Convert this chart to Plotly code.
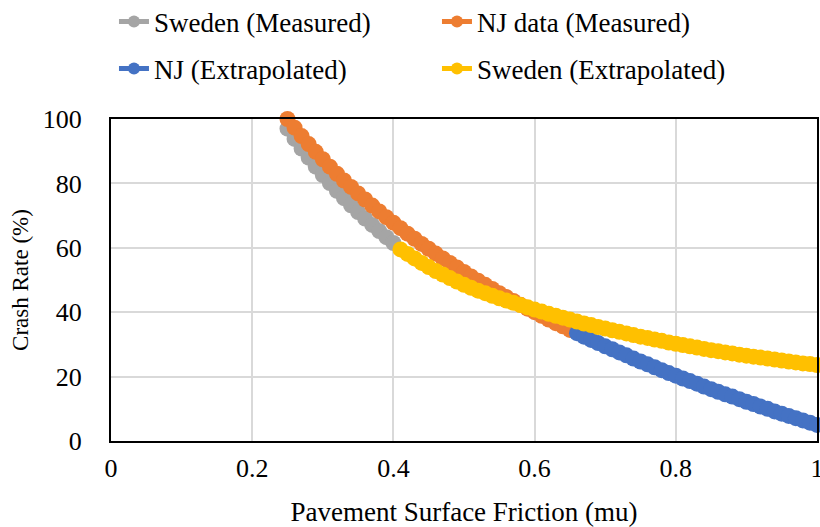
import plotly.graph_objects as go

# Pavement surface friction (mu) vs crash rate (%)
x_swe_meas = [0.25, 0.26, 0.27, 0.28, 0.29, 0.30, 0.31, 0.32, 0.33, 0.34,
              0.35, 0.36, 0.37, 0.38, 0.39, 0.40]
y_swe_meas = [97.0, 93.8, 90.8, 88.0, 85.2, 82.6, 80.1, 77.7, 75.4, 73.2,
              71.1, 69.1, 67.1, 65.2, 63.3, 61.5]

x_nj_meas = [0.25, 0.26, 0.27, 0.28, 0.29, 0.30, 0.31, 0.32, 0.33, 0.34,
             0.35, 0.36, 0.37, 0.38, 0.39, 0.40, 0.41, 0.42, 0.43, 0.44,
             0.45, 0.46, 0.47, 0.48, 0.49, 0.50, 0.51, 0.52, 0.53, 0.54,
             0.55, 0.56, 0.57, 0.58, 0.59, 0.60, 0.61, 0.62, 0.63, 0.64, 0.65]
y_nj_meas = [100.0, 97.3, 94.7, 92.2, 89.8, 87.5, 85.2, 83.0, 80.9, 78.9,
             76.9, 75.0, 73.1, 71.3, 69.5, 67.8, 66.1, 64.4, 62.8, 61.2,
             59.7, 58.2, 56.7, 55.3, 53.9, 52.5, 51.1, 49.8, 48.5, 47.2,
             45.9, 44.7, 43.5, 42.3, 41.1, 40.0, 38.9, 37.7, 36.6, 35.6, 34.5]

x_nj_ext = [0.66, 0.67, 0.68, 0.69, 0.70, 0.71, 0.72, 0.73, 0.74, 0.75,
            0.76, 0.77, 0.78, 0.79, 0.80, 0.81, 0.82, 0.83, 0.84, 0.85,
            0.86, 0.87, 0.88, 0.89, 0.90, 0.91, 0.92, 0.93, 0.94, 0.95,
            0.96, 0.97, 0.98, 0.99, 1.00]
y_nj_ext = [33.5, 32.4, 31.4, 30.4, 29.4, 28.5, 27.5, 26.6, 25.6, 24.7,
            23.8, 22.9, 22.0, 21.1, 20.3, 19.4, 18.6, 17.8, 16.9, 16.1,
            15.3, 14.5, 13.8, 13.0, 12.2, 11.5, 10.7, 10.0, 9.2, 8.5,
            7.8, 7.1, 6.4, 5.7, 5.0]

x_swe_ext = [0.41, 0.42, 0.43, 0.44, 0.45, 0.46, 0.47, 0.48, 0.49, 0.50,
             0.51, 0.52, 0.53, 0.54, 0.55, 0.56, 0.57, 0.58, 0.59, 0.60,
             0.61, 0.62, 0.63, 0.64, 0.65, 0.66, 0.67, 0.68, 0.69, 0.70,
             0.71, 0.72, 0.73, 0.74, 0.75, 0.76, 0.77, 0.78, 0.79, 0.80,
             0.81, 0.82, 0.83, 0.84, 0.85, 0.86, 0.87, 0.88, 0.89, 0.90,
             0.91, 0.92, 0.93, 0.94, 0.95, 0.96, 0.97, 0.98, 0.99, 1.00]
y_swe_ext = [59.5, 58.1, 56.7, 55.3, 54.0, 52.8, 51.7, 50.6, 49.5, 48.5,
             47.6, 46.7, 45.9, 45.1, 44.3, 43.6, 42.9, 42.2, 41.5, 40.8,
             40.2, 39.5, 38.9, 38.3, 37.7, 37.1, 36.5, 36.0, 35.4, 34.9,
             34.4, 33.9, 33.4, 32.9, 32.4, 32.0, 31.5, 31.1, 30.6, 30.2,
             29.8, 29.4, 29.0, 28.6, 28.2, 27.9, 27.5, 27.2, 26.8, 26.5,
             26.2, 25.9, 25.6, 25.3, 25.0, 24.7, 24.4, 24.1, 23.9, 23.6]

x_ticks = [0, 0.2, 0.4, 0.6, 0.8, 1]
x_labels = ["0", "0.2", "0.4", "0.6", "0.8", "1"]

FONT = "Liberation Serif, DejaVu Serif, serif"


def series(x, y, name, color, legend):
    return go.Scatter(x=x, y=y, name=name, mode="lines+markers",
                      line=dict(color=color, width=4),
                      marker=dict(color=color, size=16),
                      cliponaxis=False, legend=legend)


fig = go.Figure()
fig.add_trace(series(x_swe_meas, y_swe_meas, "Sweden (Measured)", "#A5A5A5", "legend"))
fig.add_trace(series(x_nj_meas, y_nj_meas, "NJ data (Measured)", "#ED7D31", "legend"))
fig.add_trace(series(x_nj_ext, y_nj_ext, "NJ (Extrapolated)", "#4472C4", "legend2"))
fig.add_trace(series(x_swe_ext, y_swe_ext, "Sweden (Extrapolated)", "#FFC000", "legend2"))

legend_style = dict(orientation="h", xref="container", yref="container",
                    x=0.139, xanchor="left", yanchor="middle",
                    entrywidth=278, font=dict(family=FONT, size=27, color="#000"),
                    bgcolor="rgba(0,0,0,0)", itemsizing="constant")

fig.update_layout(
    width=820, height=527,
    margin=dict(l=111, r=3, t=119, b=86, autoexpand=False),
    plot_bgcolor="white", paper_bgcolor="white",
    font=dict(family=FONT, size=25, color="#000"),
    legend=dict(legend_style, y=1 - 22 / 527),
    legend2=dict(legend_style, y=1 - 69 / 527),
)

fig.update_xaxes(range=[0, 1], tickvals=x_ticks, ticktext=x_labels,
                 tickfont=dict(family=FONT, size=26),
                 showgrid=True, gridcolor="#D9D9D9", gridwidth=1.5,
                 showline=True, linecolor="#000", linewidth=2, mirror=True,
                 zeroline=False, ticks="", ticklabelstandoff=3,
                 ticklabeloverflow="allow", automargin=False,
                 title=dict(text="Pavement Surface Friction (mu)", standoff=20,
                            font=dict(family=FONT, size=27)))
fig.update_yaxes(range=[0, 100], dtick=20,
                 tickfont=dict(family=FONT, size=26),
                 showgrid=True, gridcolor="#D9D9D9", gridwidth=1.5,
                 showline=True, linecolor="#000", linewidth=2, mirror=True,
                 zeroline=False, ticks="", ticklabelstandoff=22,
                 automargin=False,
                 title=dict(text="Crash Rate (%)", standoff=8,
                            font=dict(family=FONT, size=23)))

fig.write_html("out.html", config={"displayModeBar": False},
               post_script="document.body.style.margin='0';")
